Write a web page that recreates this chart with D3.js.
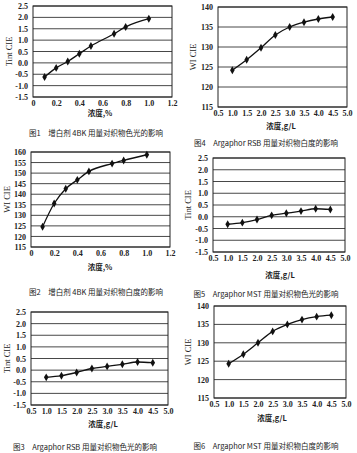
<!DOCTYPE html>
<html><head><meta charset="utf-8">
<script src="https://cdn.jsdelivr.net/npm/d3@7"></script>
<style>
body{margin:0;background:#fff;}
svg{display:block;}
text{fill:#222;}
.tick-lab{font-family:"Liberation Serif","DejaVu Serif",serif;font-size:8px;font-weight:bold;}
.ttl{font-family:"Liberation Serif",serif;font-size:8.5px;}
.cjk{font-family:"Noto Sans CJK SC",sans-serif;font-size:7.5px;}
</style></head>
<body>
<script>
// ---------- data ----------
const x4BK = [0.1, 0.2, 0.3, 0.4, 0.5, 0.7, 0.8, 1.0];
const tint4BK = [-0.62, -0.22, 0.06, 0.40, 0.74, 1.28, 1.58, 1.94];
const wi4BK = [124.6, 135.6, 142.6, 146.8, 150.8, 154.5, 156.0, 158.7];

const xConc = [1.0, 1.5, 2.0, 2.5, 3.0, 3.5, 4.0, 4.5];
const tintRSB = [-0.31, -0.24, -0.10, 0.07, 0.16, 0.25, 0.35, 0.32];
const wiRSB = [124.2, 126.8, 129.8, 133.0, 135.0, 136.2, 137.0, 137.5];
const tintMST = [-0.32, -0.25, -0.12, 0.06, 0.15, 0.24, 0.34, 0.31];
const wiMST = [124.3, 126.9, 130.0, 133.1, 135.0, 136.3, 137.1, 137.5];

const xTicks4BK = [0, 0.2, 0.4, 0.6, 0.8, 1.0, 1.2];
const xTicksConc = [0.5, 1.0, 1.5, 2.0, 2.5, 3.0, 3.5, 4.0, 4.5, 5.0];
const yTicksTint = [-1.5, -1.0, -0.5, 0.0, 0.5, 1.0, 1.5, 2.0, 2.5];
const yTicksWI2 = [115, 120, 125, 130, 135, 140, 145, 150, 155, 160];
const yTicksWI = [115, 120, 125, 130, 135, 140];

const yTitleTint = "Tint CIE";
const yTitleWI = "WI CIE";
const xTitlePct = "浓度,%";
const xTitleGL = "浓度,g/L";
const captions = [
  "图1　增白剂 4BK 用量对织物色光的影响",
  "图2　增白剂 4BK 用量对织物白度的影响",
  "图3　Argaphor RSB 用量对织物色光的影响",
  "图4　Argaphor RSB 用量对织物白度的影响",
  "图5　Argaphor MST 用量对织物色光的影响",
  "图6　Argaphor MST 用量对织物白度的影响"
];

// ---------- drawing ----------
const W = 357, H = 453;
const svg = d3.select("body").append("svg").attr("width", W).attr("height", H);

function fmtX(d){ return d === 0 ? "0" : d.toFixed(1); }
function fmtY1(d){ return d.toFixed(1); }
function fmtY0(d){ return String(d); }

function chart(o){
  const x = d3.scaleLinear().domain(o.xDom).range([o.l, o.r]);
  const y = d3.scaleLinear().domain(o.yDom).range([o.b, o.t]);
  const g = svg.append("g");
  g.selectAll("line.grid").data(o.yTicks).join("line")
    .attr("x1", o.l).attr("x2", o.r)
    .attr("y1", d => y(d)).attr("y2", d => y(d))
    .attr("stroke", "#333").attr("stroke-width", 0.9);
  g.append("rect").attr("x", o.l).attr("y", o.t).attr("width", o.r - o.l).attr("height", o.b - o.t)
    .attr("fill", "none").attr("stroke", "#222").attr("stroke-width", 1);
  const ya = d3.axisLeft(y).tickValues(o.yTicks).tickFormat(o.yFmt).tickSize(0).tickPadding(5);
  const yg = g.append("g").attr("transform", `translate(${o.l},0)`).call(ya);
  yg.select(".domain").remove();
  yg.selectAll("text").attr("class", "tick-lab").attr("fill", "#222");
  const xa = d3.axisBottom(x).tickValues(o.xTicks).tickFormat(fmtX).tickSize(0).tickPadding(3);
  const xg = g.append("g").attr("transform", `translate(0,${o.b})`).call(xa);
  xg.select(".domain").remove();
  xg.selectAll("text").attr("class", "tick-lab").attr("fill", "#222");
  const pts = o.xs.map((v, i) => [v, o.ys[i]]);
  g.append("path").datum(pts)
    .attr("d", d3.line().x(d => x(d[0])).y(d => y(d[1])).curve(d3.curveMonotoneX))
    .attr("fill", "none").attr("stroke", "#111").attr("stroke-width", 1.3);
  g.selectAll("path.pt").data(pts).join("path")
    .attr("transform", d => `translate(${x(d[0])},${y(d[1])})`)
    .attr("d", d3.symbol(d3.symbolDiamond, 18))
    .attr("fill", "#111");
  g.append("text").attr("class", "ttl")
    .attr("transform", `translate(${o.ytx},${(o.t + o.b) / 2}) rotate(-90)`)
    .attr("text-anchor", "middle").text(o.yTitle);
  g.append("text").attr("class", "cjk").attr("x", o.xtx).attr("y", o.xty)
    .attr("text-anchor", "middle").style("font-weight", "bold").text(o.xTitle);
  g.append("text").attr("class", "cjk").attr("x", o.cx).attr("y", o.cy)
    .attr("text-anchor", "middle").text(o.caption);
}

chart({xDom:[0,1.2], yDom:[-1.5,2.5], l:33, r:172, t:6, b:97, xs:x4BK, ys:tint4BK,
  xTicks:xTicks4BK, yTicks:yTicksTint, yFmt:fmtY1, yTitle:yTitleTint, ytx:12,
  xTitle:xTitlePct, xtx:100, xty:116, caption:captions[0], cx:96, cy:136});
chart({xDom:[0,1.2], yDom:[115,160], l:31, r:170, t:152, b:247, xs:x4BK, ys:wi4BK,
  xTicks:xTicks4BK, yTicks:yTicksWI2, yFmt:fmtY0, yTitle:yTitleWI, ytx:10,
  xTitle:xTitlePct, xtx:100, xty:270, caption:captions[1], cx:96, cy:295});
chart({xDom:[0.5,5.0], yDom:[-1.5,2.5], l:31, r:168, t:312, b:405, xs:xConc, ys:tintRSB,
  xTicks:xTicksConc, yTicks:yTicksTint, yFmt:fmtY1, yTitle:yTitleTint, ytx:10,
  xTitle:xTitleGL, xtx:103, xty:427, caption:captions[2], cx:85, cy:450});
chart({xDom:[0.5,5.0], yDom:[115,140], l:218, r:347, t:7, b:107, xs:xConc, ys:wiRSB,
  xTicks:xTicksConc, yTicks:yTicksWI, yFmt:fmtY0, yTitle:yTitleWI, ytx:196,
  xTitle:xTitleGL, xtx:281, xty:129, caption:captions[3], cx:266, cy:146});
chart({xDom:[0.5,5.0], yDom:[-1.5,2.5], l:213, r:345, t:158, b:252, xs:xConc, ys:tintMST,
  xTicks:xTicksConc, yTicks:yTicksTint, yFmt:fmtY1, yTitle:yTitleTint, ytx:191,
  xTitle:xTitleGL, xtx:280, xty:278, caption:captions[4], cx:266, cy:297});
chart({xDom:[0.5,5.0], yDom:[115,140], l:214, r:346, t:306, b:398, xs:xConc, ys:wiMST,
  xTicks:xTicksConc, yTicks:yTicksWI, yFmt:fmtY0, yTitle:yTitleWI, ytx:191,
  xTitle:xTitleGL, xtx:272, xty:421, caption:captions[5], cx:266, cy:449});
</script>
</body></html>
